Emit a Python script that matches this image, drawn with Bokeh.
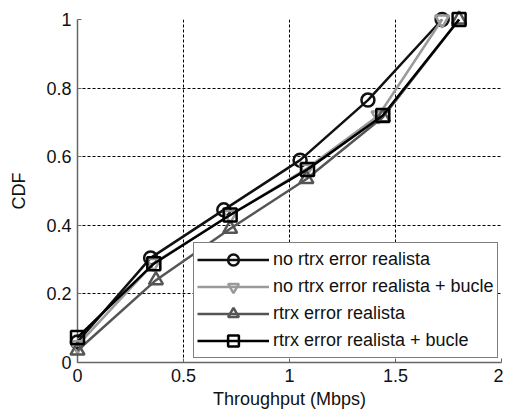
from bokeh.plotting import figure
from bokeh.models import Range1d, Legend, LegendItem, FixedTicker
from bokeh.embed import file_html
from bokeh.resources import INLINE

# Data
s1_x = [0.0, 0.345, 0.69, 1.05, 1.37, 1.72]
s1_y = [0.06, 0.305, 0.445, 0.59, 0.765, 1.0]
s2_x = [0.0, 0.36, 0.72, 1.08, 1.42, 1.72]
s2_y = [0.05, 0.29, 0.43, 0.565, 0.72, 1.0]
s3_x = [0.0, 0.37, 0.72, 1.08, 1.44, 1.80]
s3_y = [0.035, 0.24, 0.39, 0.535, 0.715, 1.0]
s4_x = [0.0, 0.36, 0.72, 1.085, 1.44, 1.80]
s4_y = [0.073, 0.288, 0.43, 0.563, 0.72, 1.0]
labels = ["no rtrx error realista", "no rtrx error realista + bucle",
          "rtrx error realista", "rtrx error realista + bucle"]
x_ticks = [0, 0.5, 1, 1.5, 2]
y_ticks = [0, 0.2, 0.4, 0.6, 0.8, 1]

FONT = "Liberation Sans"

p = figure(width=503, height=413, output_backend="svg", toolbar_location=None,
           x_range=Range1d(0, 2), y_range=Range1d(0, 1),
           min_border_left=77, min_border_right=2, min_border_top=19, min_border_bottom=51)
p.outline_line_color = None
p.background_fill_color = "white"
p.border_fill_color = "white"

for ax in (p.xaxis[0], p.yaxis[0]):
    ax.axis_line_color = "#666666"
    ax.axis_line_width = 1.5
    ax.major_tick_line_color = "#666666"
    ax.major_tick_in = 4
    ax.major_tick_out = 0
    ax.minor_tick_line_color = None
    ax.major_label_text_font = FONT
    ax.major_label_text_font_size = "18px"
    ax.major_label_text_color = "#111111"
    ax.axis_label_text_font = FONT
    ax.axis_label_text_font_size = "18px"
    ax.axis_label_text_font_style = "normal"
    ax.axis_label_text_color = "#111111"

p.xaxis.ticker = FixedTicker(ticks=x_ticks)
p.yaxis.ticker = FixedTicker(ticks=y_ticks)
p.xaxis.major_label_overrides = {0: "0", 0.5: "0.5", 1: "1", 1.5: "1.5", 2: "2"}
p.yaxis.major_label_overrides = {0: "0", 0.2: "0.2", 0.4: "0.4", 0.6: "0.6", 0.8: "0.8", 1: "1"}
p.xaxis.axis_label = "Throughput (Mbps)"
p.yaxis.axis_label = "CDF"
p.xaxis.major_label_standoff = 6
p.yaxis.major_label_standoff = 6
p.xaxis.axis_label_standoff = 4
p.yaxis.axis_label_standoff = 14

for g in (p.xgrid[0], p.ygrid[0]):
    g.grid_line_color = "black"
    g.grid_line_dash = "3 2"
    g.grid_line_width = 1

series = [
    (s1_x, s1_y, "#111111", "circle"),
    (s2_x, s2_y, "#9a9a9a", "inverted_triangle"),
    (s3_x, s3_y, "#555555", "triangle"),
    (s4_x, s4_y, "#000000", "square"),
]
items = []
for (xs, ys, col, mk), lab in zip(series, labels):
    r1 = p.line(xs, ys, line_color=col, line_width=2.5, level="overlay")
    r2 = p.scatter(xs, ys, marker=mk, size=14 if "triangle" in mk else 13,
                   line_color=col, line_width=2.5, fill_alpha=0, level="overlay")
    items.append(LegendItem(label=lab, renderers=[r1, r2]))

leg = Legend(items=items, location=(116, 4), margin=0, padding=3, spacing=0,
             label_height=22, glyph_height=27, glyph_width=72, label_standoff=4,
             label_text_font=FONT, label_text_font_size="18px", label_text_color="#111111",
             border_line_color="black", border_line_width=1.5,
             background_fill_color="white", background_fill_alpha=1)
p.add_layout(leg)

open("out.html", "w").write(file_html(p, INLINE))
